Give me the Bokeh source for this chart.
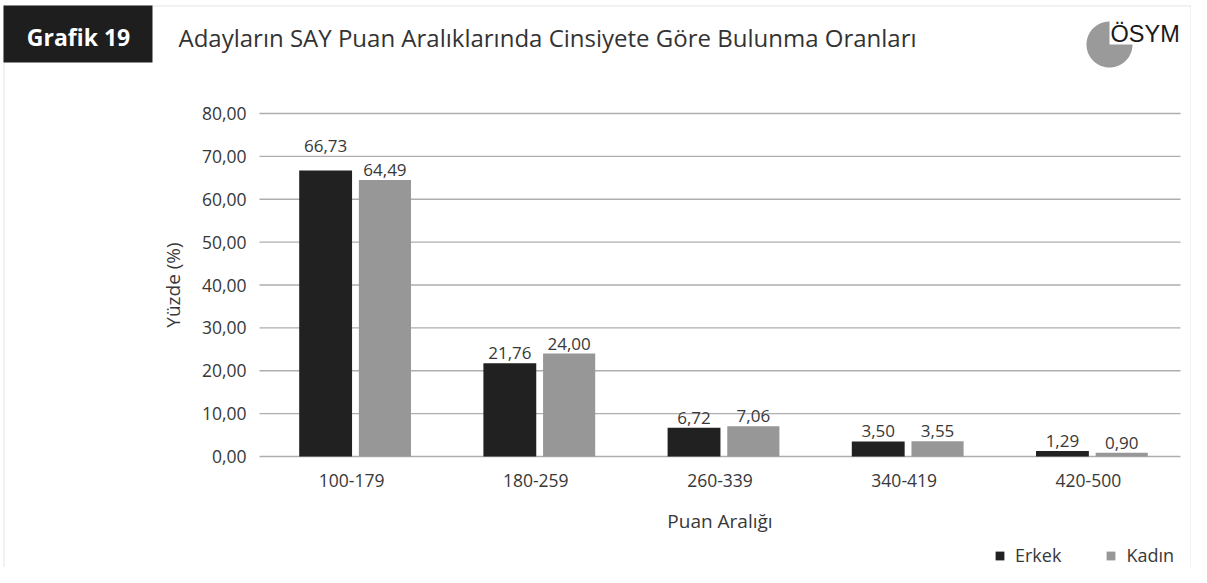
import numpy as np
from bokeh.plotting import figure
from bokeh.models import (Range1d, FixedTicker, CustomJSTickFormatter, ColumnDataSource,
                          Label, BoxAnnotation, PolyAnnotation, Legend, LegendItem)
from bokeh.embed import file_html
from bokeh.resources import INLINE
from bokeh.core.properties import value

# ---------------- data ----------------
categories = ["100-179", "180-259", "260-339", "340-419", "420-500"]
erkek = [66.73, 21.76, 6.72, 3.50, 1.29]
kadin = [64.49, 24.00, 7.06, 3.55, 0.90]
y_ticks = [0, 10, 20, 30, 40, 50, 60, 70, 80]
series_names = ["Erkek", "Kadın"]
title_text = "Adayların SAY Puan Aralıklarında Cinsiyete Göre Bulunma Oranları"
badge_text = "Grafik 19"
logo_text = "ÖSYM"
x_label = "Puan Aralığı"
y_label = "Yüzde (%)"

# ---------------- styles / layout ----------------
FONT = "Open Sans"
TXT = "#383838"
C_ERKEK = "#212121"
C_KADIN = "#979797"
W, H = 1191, 567
PLOT_LEFT, PLOT_BOTTOM = 259, 456          # pixel position of (x=0, y=0)
PX_X = 184.2                                # pixels per category
PX_Y = 4.2875                               # pixels per percent
DX_E, DX_K = -0.141, 0.181                  # bar offsets within a category
BW_E, BW_K = 0.287, 0.283
# label lift above bar top (px); Excel moved the first one up
erkek_lift = [24, 10, 10, 10, 10]
kadin_lift = [10, 10, 10, 10, 10]


def fmt(v):
    return f"{v:.2f}".replace(".", ",")


xc = np.arange(len(categories)) + 0.5
src = ColumnDataSource(dict(
    xe=xc + DX_E, xk=xc + DX_K, erkek=erkek, kadin=kadin,
    erkek_lbl=[fmt(v) for v in erkek], kadin_lbl=[fmt(v) for v in kadin],
    erkek_off=[-v for v in erkek_lift], kadin_off=[-v for v in kadin_lift],
))

x_range = Range1d(-PLOT_LEFT / PX_X, (W - PLOT_LEFT) / PX_X)
y_range = Range1d(-(H - PLOT_BOTTOM) / PX_Y, PLOT_BOTTOM / PX_Y)

p = figure(x_range=x_range, y_range=y_range, width=W, height=H,
           output_backend="svg", toolbar_location=None,
           min_border=0, min_border_left=0, min_border_right=0, min_border_top=0, min_border_bottom=0)
p.outline_line_color = None
p.background_fill_color = "white"
p.border_fill_color = "white"
p.xgrid.visible = False
p.ygrid.visible = False

# horizontal gridlines across the category span
p.segment(x0=0, x1=len(categories), y0=y_ticks, y1=y_ticks, line_color="#aeaeae", line_width=1.3)

r1 = p.vbar(x="xe", top="erkek", width=BW_E, source=src, fill_color=C_ERKEK, line_color=None)
r2 = p.vbar(x="xk", top="kadin", width=BW_K, source=src, fill_color=C_KADIN, line_color=None)

p.text(x="xe", y="erkek", text="erkek_lbl", y_offset="erkek_off", source=src,
       text_align="center", text_baseline="alphabetic",
       text_font=value(FONT), text_font_size="17px", text_color=TXT)
p.text(x="xk", y="kadin", text="kadin_lbl", y_offset="kadin_off", source=src,
       text_align="center", text_baseline="alphabetic",
       text_font=value(FONT), text_font_size="17px", text_color=TXT)

# axes (fixed inside the frame)
xa, ya = p.xaxis[0], p.yaxis[0]
ya.fixed_location = 0
xa.fixed_location = 0
ya.bounds = (y_ticks[0], y_ticks[-1])
xa.bounds = (0, len(categories))
ya.ticker = FixedTicker(ticks=y_ticks)
ya.formatter = CustomJSTickFormatter(code="return tick.toFixed(2).replace('.', ',');")
xa.ticker = FixedTicker(ticks=list(xc))
xa.formatter = CustomJSTickFormatter(args=dict(cats=categories),
                                     code="return cats[Math.floor(tick)];")
for ax in (xa, ya):
    ax.axis_line_color = None
    ax.major_tick_line_color = None
    ax.minor_tick_line_color = None
    ax.major_tick_out = 0
    ax.major_tick_in = 0
    ax.major_label_text_font = FONT
    ax.major_label_text_font_size = "17.5px"
    ax.major_label_text_color = TXT
    ax.axis_label_text_font = FONT
    ax.axis_label_text_font_size = "19px"
    ax.axis_label_text_font_style = "normal"
    ax.axis_label_text_color = TXT
ya.major_label_standoff = 13
ya.axis_label = y_label
ya.axis_label_standoff = 13
xa.major_label_standoff = 17
xa.axis_label = x_label
xa.axis_label_standoff = 18

# frame / header decorations (screen units; frame == canvas)
def sy(y):
    return H - y

scr = dict(left_units="screen", right_units="screen", top_units="screen", bottom_units="screen")
p.add_layout(BoxAnnotation(left=3.5, right=W - 0.5, top=sy(5.5), bottom=-50, fill_alpha=0,
                           line_color="#a8a8a8", line_width=1, **scr))
p.add_layout(BoxAnnotation(left=3, right=152, top=sy(5), bottom=sy(62),
                           fill_color="#1e1e1e", fill_alpha=1, line_color=None, **scr))
p.add_layout(Label(x=78, y=sy(36), x_units="screen", y_units="screen", text=badge_text,
                   text_color="white", text_font=FONT, text_font_style="bold", text_font_size="23px",
                   text_align="center", text_baseline="alphabetic"))
p.add_layout(Label(x=178, y=sy(36.5), x_units="screen", y_units="screen", text=title_text,
                   text_color="#333333", text_font=FONT, text_font_size="24px",
                   text_align="left", text_baseline="alphabetic"))

# logo
cx, cy, rr = 1109, sy(44), 23
th = np.linspace(np.pi / 2, 2 * np.pi, 80)
p.add_layout(PolyAnnotation(xs=[cx] + list(cx + rr * np.cos(th)), ys=[cy] + list(cy + rr * np.sin(th)),
                            xs_units="screen", ys_units="screen",
                            fill_color="#9a9a9a", fill_alpha=1, line_color=None))
p.add_layout(Label(x=1110, y=sy(33), x_units="screen", y_units="screen", text=logo_text,
                   text_color="#1a1a1a", text_font="Liberation Sans", text_font_size="23.5px",
                   text_align="left", text_baseline="alphabetic"))

legend = Legend(items=[LegendItem(label=series_names[0], renderers=[r1]),
                       LegendItem(label=series_names[1], renderers=[r2])],
                orientation="horizontal", location=(994, 0),
                glyph_width=11, glyph_height=11, label_standoff=10, spacing=44,
                padding=0, margin=0, border_line_color=None, background_fill_alpha=0,
                label_text_font=FONT, label_text_font_size="18px", label_text_color=TXT)
p.add_layout(legend)

open("out.html", "w").write(file_html(p, INLINE))
